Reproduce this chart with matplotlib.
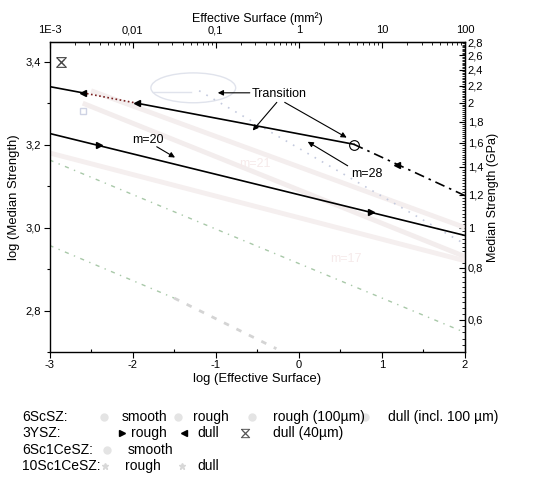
import numpy as np
import matplotlib
matplotlib.use("Agg")
import matplotlib.pyplot as plt
from matplotlib.path import Path
from matplotlib.patches import Ellipse
from matplotlib.ticker import FixedLocator, FixedFormatter, MultipleLocator

plt.rcParams['font.family'] = ['Liberation Sans', 'DejaVu Sans']

# --- tick labels (comma decimals as in the original) ---
x_ticks = [-3, -2, -1, 0, 1, 2]
x_labels = ['-3', '-2', '-1', '0', '1', '2']
y_ticks = [2.8, 3.0, 3.2, 3.4]
y_labels = ['2,8', '3,0', '3,2', '3,4']
top_ticks = [1e-3, 1e-2, 1e-1, 1, 10, 100]
top_labels = ['1E-3', '0,01', '0,1', '1', '10', '100']
gpa_ticks = [0.6, 0.8, 1.0, 1.2, 1.4, 1.6, 1.8, 2.0, 2.2, 2.4, 2.6, 2.8]
gpa_labels = ['0,6', '0,8', '1', '1,2', '1,4', '1,6', '1,8', '2', '2,2', '2,4', '2,6', '2,8']

# --- 3YSZ fit lines (log effective surface vs log median strength) ---
dull_x = [-3.0, -2.6, -1.95, 0.66]
dull_y = [3.340, 3.325, 3.300, 3.201]
dull_mark_x = [-2.6, -1.95]
dull_mark_y = [3.325, 3.300]
dull_ext_x = [0.66, 2.0]
dull_ext_y = [3.201, 3.077]
dull_ext_mark_x = [1.18]
dull_ext_mark_y = [3.152]
rough_x = [-3.0, 2.0]
rough_y = [3.227, 2.981]
rough_mark_x = [-2.41, 0.87]
rough_mark_y = [3.198, 3.037]
trans_x, trans_y = 0.66, 3.20
dull40_x, dull40_y = -2.86, 3.40

# --- faint (washed out) series of the other materials ---
faint_c_x = [-2.5, 2.0]
faint_c_y = [3.33, 3.00]
faint_a_x = [-2.6, 2.0]
faint_a_y = [3.30, 2.93]
faint_b_x = [-3.0, 2.0]
faint_b_y = [3.18, 2.92]
blue_x = [-1.2, 2.0]
blue_y = [3.33, 2.96]
green1_x = [-3.0, 2.0]
green1_y = [3.163, 2.747]
green2_x = [-3.0, -1.5, -0.27]
green2_y = [2.957, 2.83, 2.708]

hourglass = Path([(-1, 1), (1, 1), (-1, -1), (1, -1), (-1, 1)],
                 [Path.MOVETO, Path.LINETO, Path.LINETO, Path.LINETO, Path.LINETO])

fig = plt.figure(figsize=(5.59, 4.79), dpi=100)
ax = fig.add_axes([0.0886, 0.2651, 0.7433, 0.6472])

# faint background data
ax.plot(faint_c_x, faint_c_y, color='#f4eeee', lw=3.5, solid_capstyle='butt')
ax.plot(faint_a_x, faint_a_y, color='#f3eded', lw=3.5, solid_capstyle='butt')
ax.plot(faint_b_x, faint_b_y, color='#f5efef', lw=3.5, solid_capstyle='butt')
ax.plot(blue_x, blue_y, color='#c4cade', lw=1.2, ls=(0, (1, 4)))
ax.plot(green1_x, green1_y, color='#a8c8a8', lw=1.0, ls=(0, (3, 4, 1, 4)))
ax.plot(green2_x[:2], green2_y[:2], color='#a8c8a8', lw=1.0, ls=(0, (3, 4, 1, 4)))
ax.plot(green2_x[1:], green2_y[1:], color='#d4d4d4', lw=2.0, ls=(0, (2, 3)))
ax.add_patch(Ellipse((-1.27, 3.337), 1.02, 0.072, fill=False, ec='#e0e3ec', lw=1.0))
ax.plot([-1.75, -1.3], [3.328, 3.328], color='#e0e3ec', lw=1.0)
ax.plot([-2.6], [3.28], marker='s', ms=5, mfc='none', mec='#cfd3e4', lw=0)
ax.text(-0.53, 3.154, 'm=21', color='#f6eaea', fontsize=9, ha='center', va='center')
ax.text(0.57, 2.925, 'm=17', color='#f6eaea', fontsize=9, ha='center', va='center')

# 3YSZ lines
ax.plot(dull_x[:2], dull_y[:2], color='k', lw=1.2)
ax.plot(dull_x[1:3], dull_y[1:3], color='#7a2020', lw=1.2, ls=(0, (1, 1.5)))
ax.plot(dull_x[2:], dull_y[2:], color='k', lw=1.2)
ax.plot(dull_ext_x, dull_ext_y, color='k', lw=1.2, ls=(0, (6, 3, 1.5, 3)))
ax.plot(dull_mark_x + dull_ext_mark_x, dull_mark_y + dull_ext_mark_y,
        ls='none', marker='<', ms=5, color='k')
ax.plot(rough_x, rough_y, color='k', lw=1.2)
ax.plot(rough_mark_x, rough_mark_y, ls='none', marker='>', ms=5, color='k')
ax.plot([trans_x], [trans_y], marker='o', ms=7, mfc='none', mec='k', mew=0.8)
ax.plot([dull40_x], [dull40_y], marker=hourglass, ms=7, mfc='none', mec='#444444', mew=0.8)
ax.plot([dull40_x], [dull40_y], marker='x', ms=5, mec='#444444', mew=0.8)

# annotations
aprops = dict(arrowstyle='-|>', color='k', lw=0.8, mutation_scale=8, shrinkA=0, shrinkB=0)
ax.text(-0.24, 3.323, 'Transition', fontsize=9, ha='center', va='center')
ax.annotate('', xy=(-0.975, 3.325), xytext=(-0.59, 3.325), arrowprops=aprops)
ax.annotate('', xy=(-0.555, 3.234), xytext=(-0.265, 3.302), arrowprops=aprops)
ax.annotate('', xy=(0.576, 3.217), xytext=(-0.17, 3.302), arrowprops=aprops)
ax.text(0.816, 3.130, 'm=28', fontsize=9, ha='center', va='center')
ax.annotate('', xy=(0.107, 3.207), xytext=(0.588, 3.149), arrowprops=aprops)
ax.text(-1.815, 3.212, 'm=20', fontsize=9, ha='center', va='center')
ax.annotate('', xy=(-1.49, 3.169), xytext=(-1.71, 3.195), arrowprops=aprops)

ax.set_xlim(-3, 2)
ax.set_ylim(2.7, 3.4475)
ax.xaxis.set_major_locator(FixedLocator(x_ticks))
ax.xaxis.set_major_formatter(FixedFormatter(x_labels))
ax.xaxis.set_minor_locator(MultipleLocator(0.5))
ax.yaxis.set_major_locator(FixedLocator(y_ticks))
ax.yaxis.set_major_formatter(FixedFormatter(y_labels))
ax.yaxis.set_minor_locator(MultipleLocator(0.1))
ax.tick_params(which='major', direction='out', length=4, width=0.8, labelsize=8, pad=2)
ax.tick_params(which='minor', direction='out', length=2.5, width=0.8)
ax.tick_params(axis='x', which='minor', direction='in')
for s in ax.spines.values():
    s.set_linewidth(1.0)
ax.set_xlabel('log (Effective Surface)', fontsize=9.4, labelpad=2)
ax.set_ylabel('log (Median Strength)', fontsize=9.4, labelpad=4)

# top axis: effective surface in mm^2
top = ax.secondary_xaxis('top', functions=(lambda v: 10.0 ** v,
                                           lambda s: np.log10(np.clip(s, 1e-12, None))))
top.xaxis.set_major_locator(FixedLocator(top_ticks))
top.xaxis.set_major_formatter(FixedFormatter(top_labels))
minor_top = [m * 10.0 ** e for e in range(-3, 2) for m in range(2, 10)]
top.xaxis.set_minor_locator(FixedLocator(minor_top))
top.tick_params(which='major', direction='in', length=4, width=0.8, labelsize=8, pad=5)
top.tick_params(which='minor', direction='in', length=2, width=0.6)
top.set_xlabel('Effective Surface (mm²)', fontsize=9, labelpad=2)

# right axis: median strength in GPa
right = ax.secondary_yaxis('right', functions=(lambda v: 10.0 ** v / 1000.0,
                                               lambda g: np.log10(np.clip(g, 1e-12, None) * 1000.0)))
right.yaxis.set_major_locator(FixedLocator(gpa_ticks))
right.yaxis.set_major_formatter(FixedFormatter(gpa_labels))
right.yaxis.set_minor_locator(FixedLocator(np.arange(0.50, 2.80, 0.02)))
right.tick_params(which='major', direction='in', length=4, width=0.8, labelsize=8, pad=2)
right.tick_params(which='minor', direction='in', length=2, width=0.6)
right.set_ylabel('Median Strength (GPa)', fontsize=9, labelpad=3)

# legend block below the plot (pixel coordinates of the figure)
leg = fig.add_axes([0, 0, 1, 1], zorder=-1)
leg.set_xlim(0, 559)
leg.set_ylim(479, 0)
leg.axis('off')
fs = 10.0
rows = {'6ScSZ:': 417, '3YSZ:': 433, '6Sc1CeSZ:': 450, '10Sc1CeSZ:': 466}
for name, yy in rows.items():
    leg.text(22, yy, name, fontsize=fs, va='center')
pale = '#e4e4e4'
y1, y2, y3, y4 = rows.values()
# 6ScSZ
leg.plot([104, 178, 252, 365], [y1] * 4, ls='none', marker='o', ms=5, color=pale)
leg.text(122, y1, 'smooth', fontsize=fs, va='center')
leg.text(193, y1, 'rough', fontsize=fs, va='center')
leg.text(273, y1, 'rough (100µm)', fontsize=fs, va='center')
leg.text(388, y1, 'dull (incl. 100 µm)', fontsize=fs, va='center')
# 3YSZ
leg.plot([122], [y2], ls='none', marker='>', ms=5, color='k')
leg.text(131, y2, 'rough', fontsize=fs, va='center')
leg.plot([184], [y2], ls='none', marker='<', ms=5, color='k')
leg.text(197, y2, 'dull', fontsize=fs, va='center')
leg.plot([245], [y2], ls='none', marker=hourglass, ms=6, mfc='none', mec='#555555', mew=0.7)
leg.plot([245], [y2], ls='none', marker='x', ms=4, mec='#555555', mew=0.7)
leg.text(273, y2, 'dull (40µm)', fontsize=fs, va='center')
# 6Sc1CeSZ
leg.plot([107], [y3], ls='none', marker='o', ms=5, color=pale)
leg.text(128, y3, 'smooth', fontsize=fs, va='center')
# 10Sc1CeSZ
leg.plot([105, 182], [y4, y4], ls='none', marker='*', ms=5, color='#d8d8d8')
leg.text(125, y4, 'rough', fontsize=fs, va='center')
leg.text(197, y4, 'dull', fontsize=fs, va='center')

fig.savefig('out.png', dpi=100)
